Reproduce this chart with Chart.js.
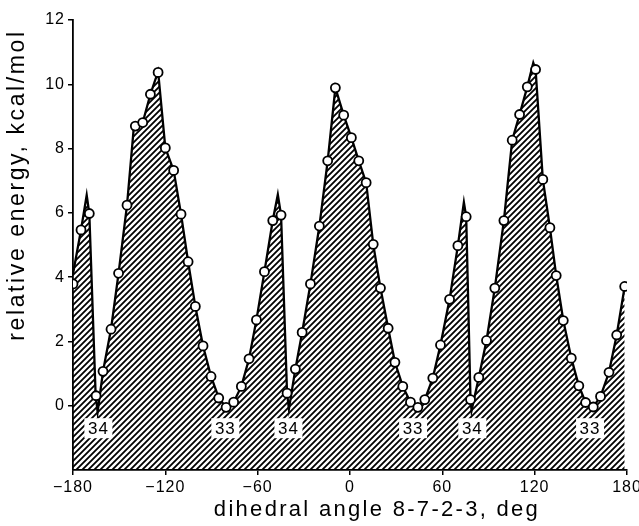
<!DOCTYPE html>
<html>
<head>
<meta charset="utf-8">
<script src="https://cdn.jsdelivr.net/npm/chart.js@4.4.1/dist/chart.umd.min.js"></script>
<style>
  html, body { margin: 0; padding: 0; background: #fff; }
  #wrap { width: 639px; height: 526px; }
</style>
</head>
<body>
<div id="wrap"><canvas id="energy-chart"></canvas></div>
<script>
// computed conformer energies (open circles)
const angles = [-180, -174.8, -169.4, -165.0, -160.5, -155.3, -150.4, -144.9, -139.5, -134.7,
  -129.7, -124.7, -120.0, -114.6, -109.8, -105.2, -100.5, -95.5, -90.3, -85.3,
  -80.5, -75.6, -70.6, -65.6, -60.8, -55.6, -50.2, -44.8, -40.9, -35.5,
  -31.1, -25.7, -19.9, -14.5, -9.5, -4.1, 0.9, 5.7, 10.5, 15.1,
  19.8, 24.8, 29.2, 34.3, 39.3, 44.1, 48.6, 53.8, 58.8, 64.7,
  70.1, 75.5, 78.3, 83.7, 88.7, 94.1, 100.0, 105.4, 110.2, 115.2,
  120.6, 125.3, 129.9, 134.0, 138.6, 143.8, 148.7, 153.1, 158.1, 162.8,
  168.3, 173.3, 178.5];
const energies = [3.79, 5.47, 5.98, 0.31, 1.07, 2.38, 4.12, 6.24, 8.70, 8.81,
  9.69, 10.37, 8.02, 7.32, 5.96, 4.48, 3.09, 1.86, 0.91, 0.24,
  -0.05, 0.11, 0.60, 1.46, 2.67, 4.17, 5.76, 5.93, 0.39, 1.14,
  2.28, 3.79, 5.59, 7.62, 9.89, 9.04, 8.34, 7.62, 6.94, 5.02,
  3.66, 2.41, 1.35, 0.60, 0.11, -0.05, 0.19, 0.86, 1.89, 3.31,
  4.98, 5.88, 0.19, 0.88, 2.03, 3.66, 5.76, 8.26, 9.06, 9.92,
  10.46, 7.04, 5.54, 4.05, 2.65, 1.48, 0.62, 0.10, -0.04, 0.29,
  1.04, 2.20, 3.71];

// drawn curve (hatched underneath)
const curveAngles = [-180, -174.8, -171.1, -169.4, -165.3, -164.0, -160.5, -155.3, -150.4, -144.9,
  -140.5, -134.7, -129.7, -124.7, -120.0, -114.6, -109.8, -105.2, -100.5, -95.5,
  -90.3, -85.3, -80.5, -75.6, -70.6, -65.6, -60.8, -55.6, -50.2, -46.9,
  -44.8, -40.9, -39.7, -35.5, -31.1, -25.7, -19.9, -14.5, -9.5, -4.1,
  0.9, 5.7, 10.5, 15.1, 19.8, 24.8, 29.2, 34.3, 39.3, 44.1,
  48.6, 53.8, 58.8, 64.7, 70.1, 74.0, 75.5, 78.3, 79.0, 83.7,
  88.7, 94.1, 100.0, 105.4, 110.2, 115.2, 119.1, 120.6, 125.3, 129.9,
  134.0, 138.6, 143.8, 148.7, 153.1, 158.1, 162.8, 168.3, 173.3, 178.5];
const curveEnergies = [4.1, 5.47, 6.55, 5.98, 0.35, -0.2, 1.07, 2.38, 4.12, 6.24,
  8.65, 8.81, 9.69, 10.4, 8.02, 7.32, 5.96, 4.48, 3.09, 1.86,
  0.91, 0.24, -0.05, 0.11, 0.60, 1.46, 2.67, 4.17, 5.76, 6.57,
  5.93, 0.39, -0.1, 1.14, 2.28, 3.79, 5.59, 7.62, 9.89, 9.04,
  8.34, 7.62, 6.94, 5.02, 3.66, 2.41, 1.35, 0.60, 0.11, -0.05,
  0.19, 0.86, 1.89, 3.31, 4.98, 6.33, 5.88, 0.19, -0.15, 0.88,
  2.03, 3.66, 5.76, 8.26, 9.06, 9.92, 10.67, 10.46, 7.04, 5.54,
  4.05, 2.65, 1.48, 0.62, 0.10, -0.04, 0.29, 1.04, 2.20, 3.71];

// conformer numbers under the minima
const minLabels = ['34', '33', '34', '33', '34', '33'];
const minLabelAngles = [-163.5, -81, -40, 41, 79.5, 156];
const minLabelEnergy = -0.7;

const xTicks = [-180, -120, -60, 0, 60, 120, 180];
const xTickLabels = ['\u2212180', '\u2212120', '\u221260', '0', '60', '120', '180'];
const yTicks = [0, 2, 4, 6, 8, 10, 12];
const yTickLabels = ['0', '2', '4', '6', '8', '10', '12'];

const xTitle = 'dihedral angle 8-7-2-3, deg';
const yTitle = 'relative energy, kcal/mol';

const FONT = '"Liberation Sans", Arial, Helvetica, sans-serif';
Chart.defaults.font.family = FONT;
Chart.defaults.color = '#000';

function hatch() {
  const c = document.createElement('canvas');
  c.width = 6; c.height = 6;
  const g = c.getContext('2d');
  g.strokeStyle = '#000';
  g.lineWidth = 1.8;
  g.beginPath();
  g.moveTo(-1, 7); g.lineTo(7, -1);
  g.moveTo(-1, 1); g.lineTo(1, -1);
  g.moveTo(5, 7); g.lineTo(7, 5);
  g.stroke();
  return g.createPattern(c, 'repeat');
}

// the original lettering is loosely spaced
const spacing = {
  id: 'spacing',
  beforeUpdate(chart) { chart.ctx.letterSpacing = '1px'; },
  beforeDraw(chart) { chart.ctx.letterSpacing = '1px'; }
};

const extras = {
  id: 'extras',
  afterDatasetsDraw(chart) {
    const ctx = chart.ctx;
    const xs = chart.scales.x, ys = chart.scales.y;
    ctx.save();
    ctx.font = '17px ' + FONT;
    ctx.textAlign = 'center';
    ctx.textBaseline = 'middle';
    minLabels.forEach((t, i) => {
      const px = xs.getPixelForValue(minLabelAngles[i]);
      const py = ys.getPixelForValue(minLabelEnergy);
      ctx.fillStyle = '#fff';
      ctx.fillRect(px - 14, py - 10, 28, 20);
      ctx.fillStyle = '#000';
      ctx.fillText(t, px, py + 1);
    });
    ctx.restore();
  },
  afterDraw(chart) {
    const ctx = chart.ctx;
    ctx.save();
    ctx.fillStyle = '#000';
    ctx.textAlign = 'center';
    ctx.textBaseline = 'middle';
    ctx.letterSpacing = '2.3px';
    ctx.font = '22px ' + FONT;
    ctx.fillText(xTitle, 377, 510);
    ctx.letterSpacing = '2.6px';
    ctx.font = '23px ' + FONT;
    ctx.translate(18, 185);
    ctx.rotate(-Math.PI / 2);
    ctx.fillText(yTitle, 0, 0);
    ctx.restore();
  }
};

new Chart(document.getElementById('energy-chart'), {
  type: 'scatter',
  data: {
    datasets: [{
      data: angles.map((a, i) => ({ x: a, y: energies[i] })),
      showLine: false,
      pointRadius: 4.5,
      pointBackgroundColor: '#fff',
      pointBorderColor: '#000',
      pointBorderWidth: 1.8,
      order: 0
    }, {
      data: curveAngles.map((a, i) => ({ x: a, y: curveEnergies[i] })),
      showLine: true,
      borderColor: '#000',
      borderWidth: 2.3,
      pointRadius: 0,
      fill: 'start',
      backgroundColor: hatch(),
      tension: 0,
      order: 1
    }]
  },
  options: {
    responsive: true,
    maintainAspectRatio: false,
    animation: false,
    layout: { padding: { left: 5, right: 12, top: 20, bottom: 4 } },
    plugins: {
      legend: { display: false },
      tooltip: { enabled: false }
    },
    scales: {
      x: {
        type: 'linear',
        min: -180,
        max: 180,
        afterBuildTicks: s => { s.ticks = xTicks.map(v => ({ value: v })); },
        afterFit: s => { s.height = 52; s.paddingLeft = 0; s.paddingRight = 0; },
        grid: { drawOnChartArea: false, color: '#000', lineWidth: 1.5, tickLength: 5 },
        border: { color: '#000', width: 1.8 },
        ticks: {
          color: '#000',
          font: { size: 16 },
          padding: 3,
          maxRotation: 0,
          callback: (v, i) => xTickLabels[i]
        }
      },
      y: {
        min: -2,
        max: 12,
        afterBuildTicks: s => { s.ticks = yTicks.map(v => ({ value: v })); },
        afterFit: s => { s.width = 68; s.paddingTop = 0; s.paddingBottom = 0; },
        grid: { drawOnChartArea: false, color: '#000', lineWidth: 1.5, tickLength: 5 },
        border: { color: '#000', width: 1.8 },
        ticks: {
          color: '#000',
          font: { size: 16 },
          padding: 3,
          callback: (v, i) => yTickLabels[i]
        }
      }
    }
  },
  plugins: [spacing, extras]
});
</script>
</body>
</html>
